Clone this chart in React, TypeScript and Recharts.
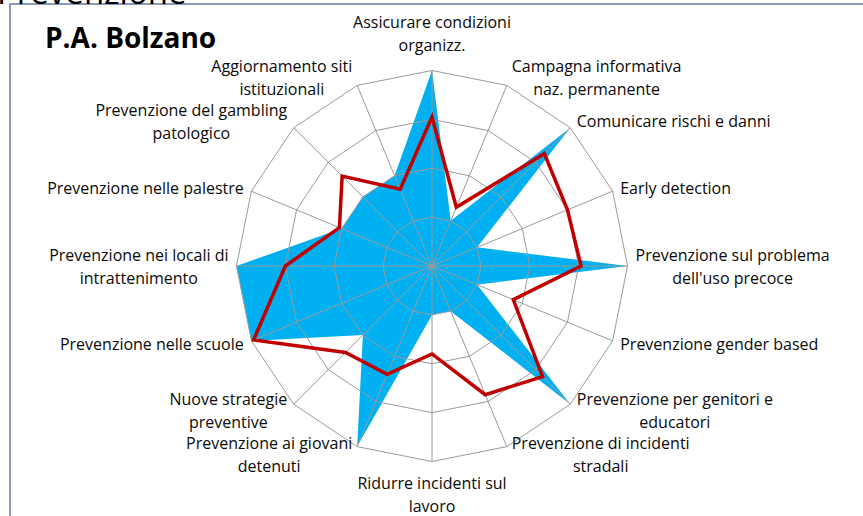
import { PolarAngleAxis, PolarGrid, PolarRadiusAxis, Radar, RadarChart } from "recharts";

const categories = [
  "Assicurare condizioni\norganizz.",
  "Campagna informativa\nnaz. permanente",
  "Comunicare rischi e danni",
  "Early detection",
  "Prevenzione sul problema\ndell'uso precoce",
  "Prevenzione gender based",
  "Prevenzione per genitori e\neducatori",
  "Prevenzione di incidenti\nstradali",
  "Ridurre incidenti sul\nlavoro",
  "Prevenzione ai giovani\ndetenuti",
  "Nuove strategie\npreventive",
  "Prevenzione nelle scuole",
  "Prevenzione nei locali di\nintrattenimento",
  "Prevenzione nelle palestre",
  "Prevenzione del gambling\npatologico",
  "Aggiornamento siti\nistituzionali",
];

const bolzano = [4, 1, 4, 1, 4, 1, 4, 1, 1, 4, 2, 4, 4, 2, 2, 2];
const media = [3.05, 1.3, 3.25, 3, 3.05, 1.8, 3.2, 2.85, 1.8, 2.4, 2.5, 3.95, 3, 2.05, 2.6, 1.7];
const radiusDomain = [0, 4];

const data = categories.map((category, i) => ({
  category,
  bolzano: bolzano[i],
  media: media[i],
}));

const CX = 432;
const CY = 266;
const R = 195.5;
const FONT = "'Open Sans', Lato, sans-serif";
const LABEL_SIZE = 16;
const LINE_H = 23;

let ctx: CanvasRenderingContext2D | null = null;
function textWidth(s: string) {
  if (!ctx) ctx = document.createElement("canvas").getContext("2d");
  if (!ctx) return s.length * 8;
  ctx.font = `${LABEL_SIZE}px 'Open Sans'`;
  return ctx.measureText(s).width;
}

function AngleTick(props: any) {
  const { payload } = props;
  const lines = String(payload.value).split("\n");
  const rad = (payload.coordinate * Math.PI) / 180;
  const ux = Math.cos(rad);
  const uy = -Math.sin(rad);
  const vx = CX + R * ux;
  const vy = CY + R * uy;
  const w = Math.max(...lines.map(textWidth));
  const h = lines.length * LINE_H;

  let midX: number;
  let top: number;
  if (Math.abs(ux) < 0.1) {
    midX = vx;
    top = uy < 0 ? vy - 14 - h : vy + 10;
  } else {
    const gap = 3 + 5 * Math.abs(ux);
    midX = ux > 0 ? vx + gap + w / 2 : vx - gap - w / 2;
    top = vy + uy * 9 - h / 2;
  }

  return (
    <g>
      {lines.map((line, i) => (
        <text
          key={i}
          x={midX}
          y={top + LINE_H * i + LINE_H / 2}
          textAnchor="middle"
          dominantBaseline="central"
          fontFamily={FONT}
          fontSize={LABEL_SIZE}
          fill="#0a0a0a"
        >
          {line}
        </text>
      ))}
    </g>
  );
}

export default function App() {
  return (
    <div
      style={{
        position: "absolute",
        left: 0,
        top: 0,
        width: 863,
        height: 516,
        overflow: "hidden",
        background: "#fff",
      }}
    >
      <div
        style={{
          position: "absolute",
          left: 9,
          top: 3,
          width: 900,
          height: 600,
          borderTop: "2px solid #8c98b8",
          borderLeft: "2px solid #8c98b8",
        }}
      />
      <svg width={863} height={60} style={{ position: "absolute", left: 0, top: 0 }}>
        <text x={-3} y={4} fontFamily={FONT} fontSize={33} fill="#000">
          Prevenzione
        </text>
        <text x={45} y={48} fontFamily={FONT} fontSize={28} fontWeight={700} fill="#000">
          P.A. Bolzano
        </text>
      </svg>
      <div style={{ position: "absolute", left: 0, top: 0 }}>
        <RadarChart
          width={863}
          height={516}
          data={data}
          cx={CX}
          cy={CY}
          outerRadius={R}
          margin={{ top: 0, right: 0, bottom: 0, left: 0 }}
        >
          <PolarRadiusAxis
            domain={radiusDomain}
            tickCount={5}
            tick={false}
            axisLine={false}
          />
          <PolarAngleAxis dataKey="category" tick={AngleTick} tickLine={false} axisLine={false} />
          <Radar
            dataKey="bolzano"
            fill="#00b0f0"
            fillOpacity={1}
            stroke="none"
            isAnimationActive={false}
          />
          <PolarGrid gridType="polygon" stroke="#9a9a9a" strokeOpacity={1} zIndex={150} />
          <Radar
            dataKey="media"
            fill="none"
            fillOpacity={0}
            stroke="#c00000"
            strokeWidth={3.5}
            strokeLinejoin="miter"
            isAnimationActive={false}
            zIndex={200}
          />
        </RadarChart>
      </div>
    </div>
  );
}
